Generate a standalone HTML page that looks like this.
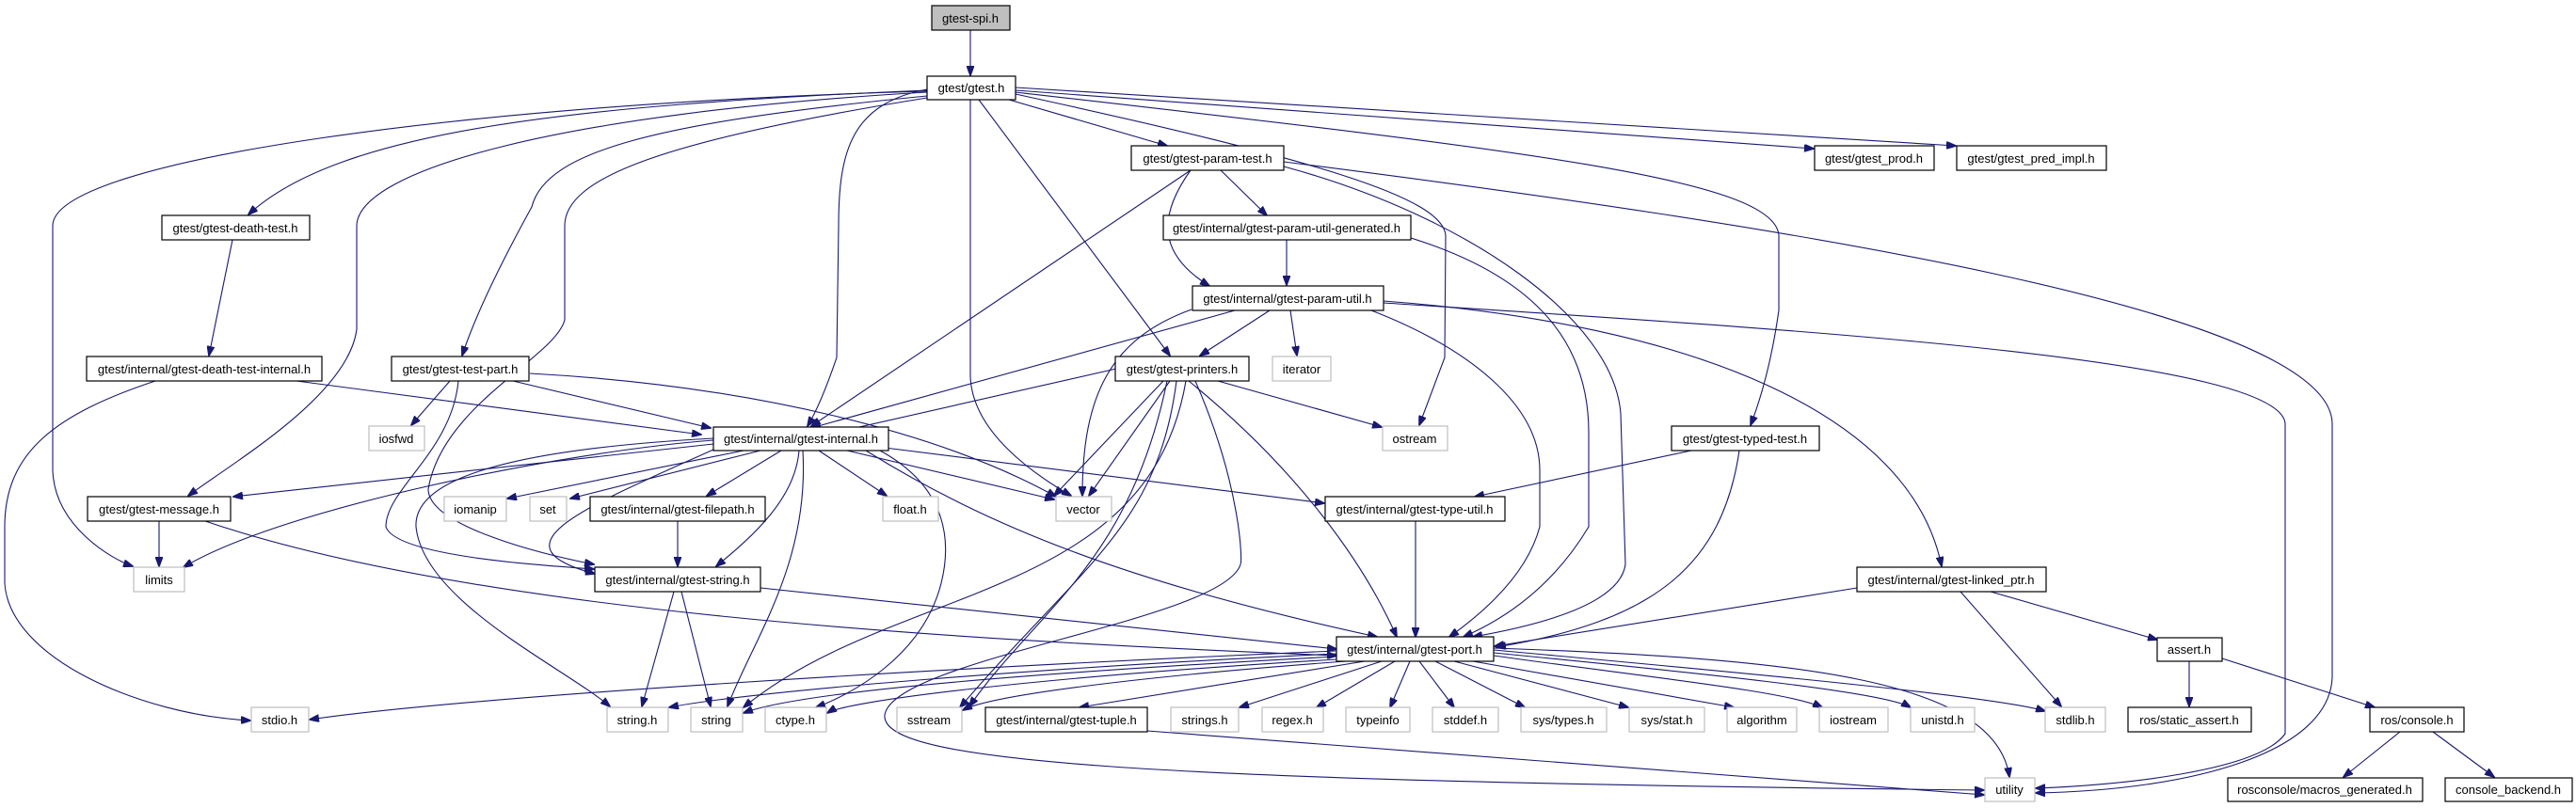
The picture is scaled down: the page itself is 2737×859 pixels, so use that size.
<!DOCTYPE html>
<html><head><meta charset="utf-8"><style>
html,body{margin:0;padding:0;background:#fff;}
svg{display:block;}
text{font-family:"Liberation Sans",Arial,sans-serif;font-size:13px;fill:#000;text-anchor:middle;}
.n{fill:#fff;stroke:#000;stroke-width:1.2;}
.g{fill:#fff;stroke:#bfbfbf;stroke-width:1.2;}
.e{fill:none;stroke:#191970;stroke-width:1.1;marker-end:url(#a);}
</style></head><body>
<svg width="2737" height="859" viewBox="0 0 2737 859" xmlns="http://www.w3.org/2000/svg">
<defs><marker id="a" markerUnits="userSpaceOnUse" markerWidth="11" markerHeight="8" refX="10" refY="4" orient="auto"><path d="M0,0 L11,4 L0,8 z" fill="#191970" stroke="#191970"/></marker></defs>

<!-- edges -->
<path class="e" d="M1031 32 L1031 80"/>
<!-- gtest.h -->
<path class="e" d="M1072 106 L1240 155"/>
<path class="e" d="M1040 106 L1243 378"/>
<path class="e" d="M1031 106 L1031 400 C1033 460 1100 505 1138 527"/>
<path class="e" d="M985 95 C905 110 891 160 891 240 L889 380 Q872 430 858 453"/>
<path class="e" d="M1079 100 C1400 170 1532 210 1536 250 L1535 380 Q1520 420 1508 452"/>
<path class="e" d="M1079 96 L1927 158"/>
<path class="e" d="M1079 93 L2078 155"/>
<path class="e" d="M1079 98 C1620 160 1885 190 1890 250 L1890 330 Q1880 400 1860 452"/>
<path class="e" d="M985 96 C600 112 360 140 264 228"/>
<path class="e" d="M985 97 C500 110 56 170 56 240 L56 500 C58 560 120 595 141 602"/>
<path class="e" d="M985 98 C600 120 380 180 379 240 L379 350 C370 420 250 490 200 527"/>
<path class="e" d="M985 102 C700 130 580 160 565 220 Q510 320 491 378"/>
<path class="e" d="M985 104 C700 150 600 190 600 240 L600 340 C590 380 470 430 455 520 C455 560 580 590 631 600"/>
<!-- param-test -->
<path class="e" d="M1297 181 L1346 229"/>
<path class="e" d="M1265 181 C1230 230 1230 270 1285 304"/>
<path class="e" d="M1265 181 L862 453"/>
<path class="e" d="M1364 177 C1560 230 1715 340 1722 440 L1727 600 Q1720 650 1565 677"/>
<path class="e" d="M1364 172 C1900 240 2475 330 2478 450 L2478 720 C2475 800 2330 840 2163 843"/>
<!-- param-util-generated -->
<path class="e" d="M1367 255 L1367 303"/>
<path class="e" d="M1499 253 C1650 300 1688 380 1688 460 L1688 560 Q1640 640 1555 677"/>
<!-- param-util -->
<path class="e" d="M1349 330 L1275 378"/>
<path class="e" d="M1371 330 L1378 378"/>
<path class="e" d="M1312 330 L862 455"/>
<path class="e" d="M1266 329 C1180 360 1150 420 1150 527"/>
<path class="e" d="M1457 330 C1560 370 1636 430 1636 500 L1636 560 Q1620 620 1540 677"/>
<path class="e" d="M1470 320 C1800 345 2030 440 2063 602"/>
<path class="e" d="M1470 322 C1900 350 2420 380 2428 450 L2428 780 C2400 820 2250 835 2163 838"/>
<!-- printers -->
<path class="e" d="M1186 392 L869 464"/>
<path class="e" d="M1294 405 L1468 454"/>
<path class="e" d="M1243 405 L1157 527"/>
<path class="e" d="M1236 405 L1120 527"/>
<path class="e" d="M1263 405 C1380 500 1450 600 1484 677"/>
<path class="e" d="M1250 405 C1230 560 1150 600 1020 752"/>
<path class="e" d="M1260 405 C1220 640 950 620 790 752"/>
<path class="e" d="M1270 405 C1320 520 1320 600 1318 600 C1300 660 950 700 940 760 C935 810 1200 830 2108 840"/>
<path class="e" d="M1240 405 C1200 600 1100 650 1030 751"/>
<!-- death -->
<path class="e" d="M247 255 L222 378"/>
<path class="e" d="M315 405 L745 462"/>
<path class="e" d="M165 405 C60 440 5 480 5 560 L5 620 C10 700 150 760 266 766"/>
<!-- test-part -->
<path class="e" d="M478 405 L437 452"/>
<path class="e" d="M545 405 L755 455"/>
<path class="e" d="M487 405 C480 480 410 520 410 560 C420 590 560 600 631 605"/>
<path class="e" d="M563 397 C800 410 1000 460 1122 528"/>
<!-- internal -->
<path class="e" d="M758 472 L248 528"/>
<path class="e" d="M758 468 C600 480 300 540 195 603"/>
<path class="e" d="M790 479 L539 530"/>
<path class="e" d="M808 479 L606 530"/>
<path class="e" d="M830 479 L751 527"/>
<path class="e" d="M849 479 C845 530 800 570 761 602"/>
<path class="e" d="M853 479 C860 600 800 680 773 751"/>
<path class="e" d="M758 466 C500 480 440 520 442 560 C450 640 600 710 648 751"/>
<path class="e" d="M870 479 L942 527"/>
<path class="e" d="M900 479 L1120 531"/>
<path class="e" d="M940 476 L1407 535"/>
<path class="e" d="M920 479 C1050 560 1200 620 1463 677"/>
<path class="e" d="M935 479 C1010 520 1010 580 1000 620 C980 700 900 740 867 752"/>
<path class="e" d="M758 478 C620 540 520 580 632 610"/>
<!-- string, message, filepath -->
<path class="e" d="M716 629 L682 751"/>
<path class="e" d="M724 629 L755 751"/>
<path class="e" d="M808 625 L1420 690"/>
<path class="e" d="M169 554 L169 602"/>
<path class="e" d="M218 554 C500 650 1000 680 1420 697"/>
<path class="e" d="M720 554 L720 602"/>
<!-- type-util, typed -->
<path class="e" d="M1504 554 L1504 677"/>
<path class="e" d="M1797 479 L1567 528"/>
<path class="e" d="M1848 479 C1830 600 1760 660 1590 688"/>
<!-- linked_ptr etc -->
<path class="e" d="M1973 625 L1588 687"/>
<path class="e" d="M2083 629 L2190 751"/>
<path class="e" d="M2115 629 L2292 680"/>
<path class="e" d="M2326 703 L2326 751"/>
<path class="e" d="M2361 700 L2523 752"/>
<path class="e" d="M2550 778 L2490 826"/>
<path class="e" d="M2585 778 L2650 826"/>
<path class="e" d="M1219 777 L2108 845"/>
<!-- port.h fan -->
<path class="e" d="M1420 692 C1000 710 500 740 329 765"/>
<path class="e" d="M1420 695 C1100 710 800 735 711 752"/>
<path class="e" d="M1420 698 C1100 715 850 735 790 758"/>
<path class="e" d="M1420 701 C1100 720 900 745 879 758"/>
<path class="e" d="M1430 703 C1200 720 1050 740 1023 755"/>
<path class="e" d="M1450 703 L1147 752"/>
<path class="e" d="M1468 703 L1317 752"/>
<path class="e" d="M1482 703 L1399 752"/>
<path class="e" d="M1498 703 L1477 752"/>
<path class="e" d="M1508 703 L1545 752"/>
<path class="e" d="M1525 703 L1620 752"/>
<path class="e" d="M1545 703 L1730 752"/>
<path class="e" d="M1565 703 L1842 752"/>
<path class="e" d="M1587 697 C1750 720 1900 735 1936 752"/>
<path class="e" d="M1587 694 C1800 715 2000 735 2030 752"/>
<path class="e" d="M1587 691 C1850 715 2120 740 2173 756"/>
<path class="e" d="M1587 689 C1900 700 2120 720 2135 826"/>
<!-- nodes -->
<rect x="990" y="6" width="83" height="26" fill="#bfbfbf" stroke="#000" stroke-width="1.2"/><text x="1031" y="24">gtest-spi.h</text>
<rect class="n" x="985" y="81" width="94" height="25"/><text x="1032" y="98">gtest/gtest.h</text>
<rect class="n" x="1202" y="155" width="162" height="26"/><text x="1283" y="173">gtest/gtest-param-test.h</text>
<rect class="n" x="1236" y="229" width="263" height="26"/><text x="1367" y="247">gtest/internal/gtest-param-util-generated.h</text>
<rect class="n" x="1267" y="304" width="203" height="26"/><text x="1368" y="322">gtest/internal/gtest-param-util.h</text>
<rect class="n" x="1185" y="379" width="142" height="26"/><text x="1256" y="397">gtest/gtest-printers.h</text>
<rect class="g" x="1352" y="379" width="62" height="26"/><text x="1383" y="397">iterator</text>
<rect class="n" x="1928" y="155" width="127" height="26"/><text x="1991" y="173">gtest/gtest_prod.h</text>
<rect class="n" x="2079" y="155" width="159" height="26"/><text x="2158" y="173">gtest/gtest_pred_impl.h</text>
<rect class="n" x="172" y="229" width="157" height="26"/><text x="250" y="247">gtest/gtest-death-test.h</text>
<rect class="n" x="92" y="379" width="250" height="26"/><text x="217" y="397">gtest/internal/gtest-death-test-internal.h</text>
<rect class="n" x="416" y="379" width="146" height="26"/><text x="489" y="397">gtest/gtest-test-part.h</text>
<rect class="g" x="392" y="453" width="59" height="26"/><text x="421" y="471">iosfwd</text>
<rect class="n" x="758" y="454" width="186" height="25"/><text x="851" y="471">gtest/internal/gtest-internal.h</text>
<rect class="g" x="1469" y="453" width="69" height="26"/><text x="1503" y="471">ostream</text>
<rect class="n" x="1776" y="453" width="157" height="26"/><text x="1854" y="471">gtest/gtest-typed-test.h</text>
<rect class="n" x="93" y="528" width="152" height="26"/><text x="169" y="546">gtest/gtest-message.h</text>
<rect class="g" x="472" y="528" width="66" height="26"/><text x="505" y="546">iomanip</text>
<rect class="g" x="563" y="528" width="39" height="26"/><text x="582" y="546">set</text>
<rect class="n" x="627" y="528" width="186" height="26"/><text x="720" y="546">gtest/internal/gtest-filepath.h</text>
<rect class="g" x="938" y="528" width="59" height="26"/><text x="967" y="546">float.h</text>
<rect class="g" x="1122" y="528" width="59" height="26"/><text x="1151" y="546">vector</text>
<rect class="n" x="1408" y="528" width="191" height="26"/><text x="1503" y="546">gtest/internal/gtest-type-util.h</text>
<rect class="g" x="142" y="603" width="54" height="26"/><text x="169" y="621">limits</text>
<rect class="n" x="632" y="603" width="176" height="26"/><text x="720" y="621">gtest/internal/gtest-string.h</text>
<rect class="n" x="1973" y="603" width="201" height="26"/><text x="2073" y="621">gtest/internal/gtest-linked_ptr.h</text>
<rect class="n" x="1420" y="677" width="167" height="26"/><text x="1503" y="695">gtest/internal/gtest-port.h</text>
<rect class="n" x="2292" y="678" width="69" height="25"/><text x="2326" y="695">assert.h</text>
<rect class="g" x="267" y="752" width="61" height="26"/><text x="297" y="770">stdio.h</text>
<rect class="g" x="645" y="752" width="65" height="26"/><text x="677" y="770">string.h</text>
<rect class="g" x="734" y="752" width="55" height="26"/><text x="761" y="770">string</text>
<rect class="g" x="813" y="752" width="65" height="26"/><text x="845" y="770">ctype.h</text>
<rect class="g" x="953" y="752" width="69" height="26"/><text x="987" y="770">sstream</text>
<rect class="n" x="1047" y="752" width="172" height="26"/><text x="1133" y="770">gtest/internal/gtest-tuple.h</text>
<rect class="g" x="1244" y="752" width="72" height="26"/><text x="1280" y="770">strings.h</text>
<rect class="g" x="1341" y="752" width="65" height="26"/><text x="1373" y="770">regex.h</text>
<rect class="g" x="1430" y="752" width="68" height="26"/><text x="1464" y="770">typeinfo</text>
<rect class="g" x="1522" y="752" width="70" height="26"/><text x="1557" y="770">stddef.h</text>
<rect class="g" x="1616" y="752" width="91" height="26"/><text x="1661" y="770">sys/types.h</text>
<rect class="g" x="1731" y="752" width="80" height="26"/><text x="1771" y="770">sys/stat.h</text>
<rect class="g" x="1835" y="752" width="74" height="26"/><text x="1872" y="770">algorithm</text>
<rect class="g" x="1933" y="752" width="73" height="26"/><text x="1969" y="770">iostream</text>
<rect class="g" x="2030" y="752" width="68" height="26"/><text x="2064" y="770">unistd.h</text>
<rect class="g" x="2173" y="752" width="64" height="26"/><text x="2205" y="770">stdlib.h</text>
<rect class="n" x="2261" y="752" width="131" height="26"/><text x="2326" y="770">ros/static_assert.h</text>
<rect class="n" x="2518" y="752" width="100" height="26"/><text x="2568" y="770">ros/console.h</text>
<rect class="g" x="2109" y="827" width="53" height="25"/><text x="2135" y="844">utility</text>
<rect class="n" x="2367" y="827" width="207" height="25"/><text x="2470" y="844">rosconsole/macros_generated.h</text>
<rect class="n" x="2598" y="827" width="135" height="25"/><text x="2665" y="844">console_backend.h</text>
</svg>
</body></html>
